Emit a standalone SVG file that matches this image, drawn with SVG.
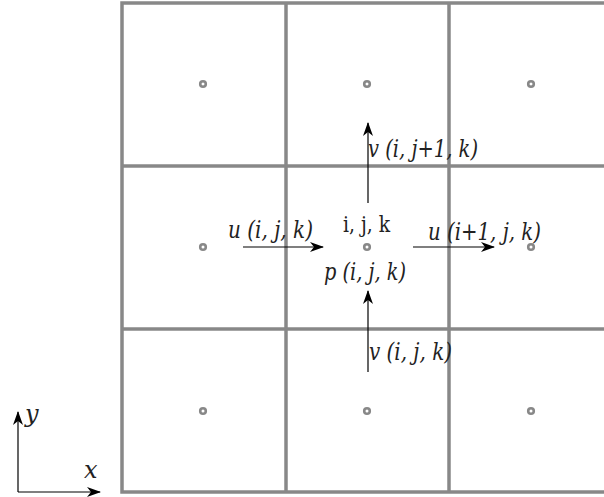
<svg xmlns="http://www.w3.org/2000/svg" width="604" height="497" viewBox="0 0 604 497">
<style>
.grid{stroke:#888;stroke-width:3.5;fill:none}
.dot{stroke:#888;stroke-width:2.6;fill:#fff}
.arr{stroke:#000;stroke-width:1.2;fill:none;marker-end:url(#ah)}
.lbl{font-family:"DejaVu Serif","Liberation Serif",serif;font-style:italic;font-size:24px;fill:#222}
.up{font-family:"DejaVu Serif","Liberation Serif",serif;font-size:23px;fill:#222}
</style>
<defs>
<marker id="ah" viewBox="0 0 14 10" refX="13" refY="5" markerWidth="14" markerHeight="10" markerUnits="userSpaceOnUse" orient="auto">
<path d="M0,0 L14,5 L0,10 L4,5 Z" fill="#000"/>
</marker>
</defs>
<g id="grid">
<rect class="grid" x="122" y="3" width="500" height="489"/>
<line class="grid" x1="286" y1="3" x2="286" y2="492"/>
<line class="grid" x1="449" y1="3" x2="449" y2="492"/>
<line class="grid" x1="122" y1="166" x2="622" y2="166"/>
<line class="grid" x1="122" y1="329" x2="622" y2="329"/>
</g>
<g id="dots">
<circle class="dot" cx="203" cy="84" r="2.8"/>
<circle class="dot" cx="367" cy="84" r="2.8"/>
<circle class="dot" cx="531" cy="84" r="2.8"/>
<circle class="dot" cx="203" cy="247" r="2.8"/>
<circle class="dot" cx="367" cy="247" r="2.8"/>
<circle class="dot" cx="531" cy="247" r="2.8"/>
<circle class="dot" cx="203" cy="411" r="2.8"/>
<circle class="dot" cx="367" cy="411" r="2.8"/>
<circle class="dot" cx="531" cy="411" r="2.8"/>
</g>
<g id="connectors">
<line class="arr" x1="243" y1="247" x2="323" y2="247"/>
<line class="arr" x1="413" y1="247" x2="494" y2="247"/>
<line class="arr" x1="368" y1="203" x2="368" y2="123"/>
<line class="arr" x1="368" y1="372" x2="368" y2="291"/>
<line class="arr" x1="18" y1="492" x2="18" y2="412"/>
<line class="arr" x1="18" y1="492" x2="100" y2="492"/>
</g>
<g id="labels">
<text class="lbl" x="228" y="238" textLength="85" lengthAdjust="spacingAndGlyphs">u (i, j, k)</text>
<text class="up" x="343" y="232" textLength="47" lengthAdjust="spacingAndGlyphs">i, j, k</text>
<text class="lbl" x="324" y="280" textLength="82" lengthAdjust="spacingAndGlyphs">p (i, j, k)</text>
<text class="lbl" x="368" y="157" textLength="110" lengthAdjust="spacingAndGlyphs">v (i, j+1, k)</text>
<text class="lbl" x="428" y="240" textLength="113" lengthAdjust="spacingAndGlyphs">u (i+1, j, k)</text>
<text class="lbl" x="369" y="360" textLength="83" lengthAdjust="spacingAndGlyphs">v (i, j, k)</text>
<text class="lbl" x="25" y="422" font-size="25">y</text>
<text class="lbl" x="84" y="478" font-size="25">x</text>
</g>
</svg>
